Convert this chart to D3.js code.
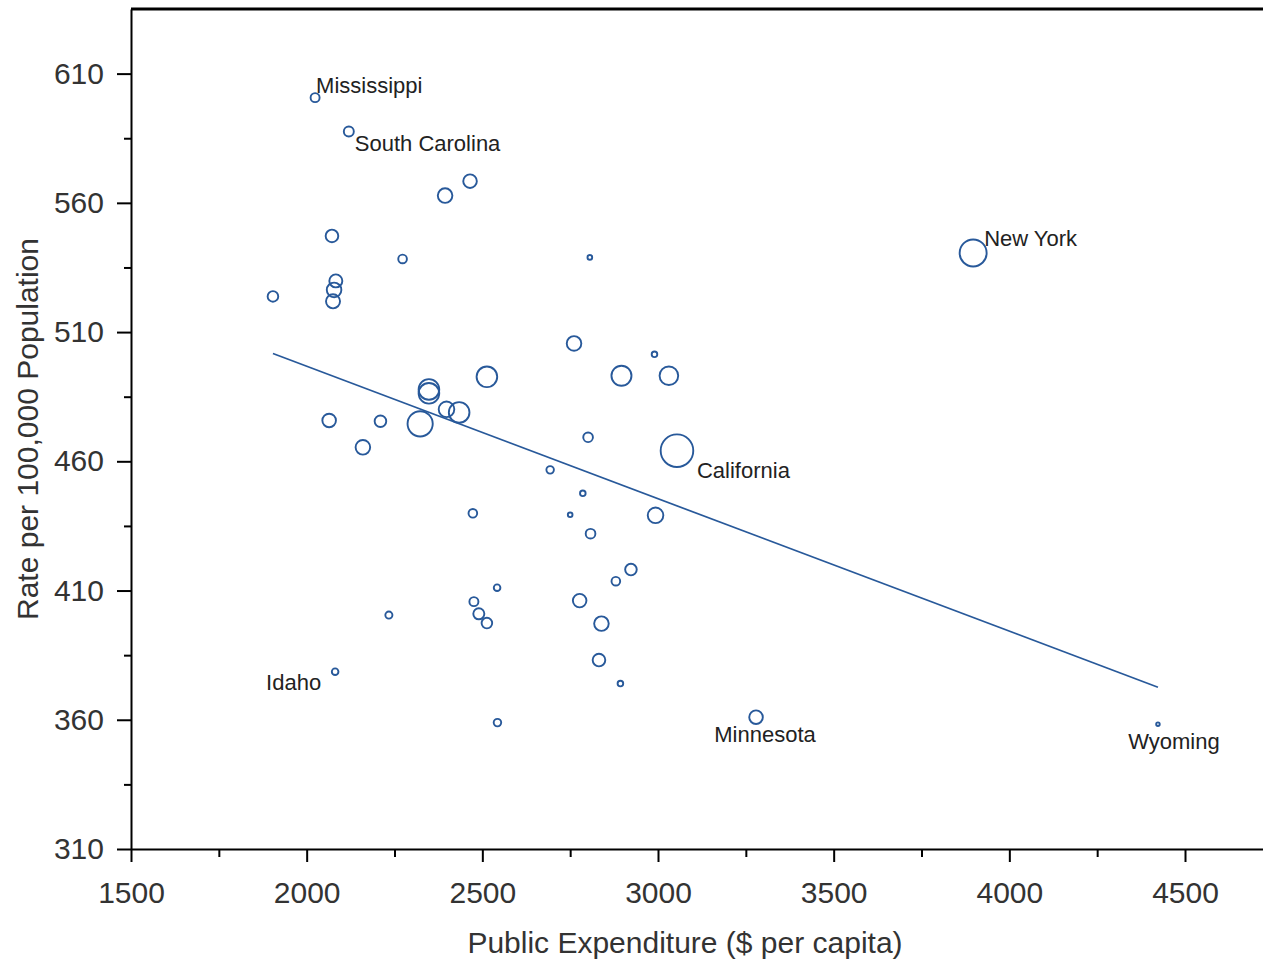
<!DOCTYPE html>
<html>
<head>
<meta charset="utf-8">
<script src="https://cdn.jsdelivr.net/npm/d3@7"></script>
<style>
  body { margin: 0; background: #fff; }
  text { font-family: "Liberation Sans", Arial, sans-serif; }
</style>
</head>
<body>
<svg id="chart" width="1263" height="961"></svg>
<script>
// state values
var expenditure = [2024, 2120, 2394, 2465, 2072, 2273, 2806, 1904, 2083, 2078,
                   2075, 3897, 2761, 2990, 2513, 2896, 3031, 2348, 2348, 2398,
                   2434, 2323, 2064, 2210, 2160, 3054, 2801, 2693, 2786, 2750,
                   2993, 2473, 2808, 2923, 2880, 2542, 2777, 2476, 2490, 2513,
                   2839, 2234, 2832, 2893, 2543, 2081, 3279, 4423];
var rate = [600.7, 587.6, 562.8, 568.4, 547.2, 538.3, 538.9, 523.8, 529.8, 526.3,
            521.9, 540.6, 505.6, 501.4, 492.7, 493.1, 493.1, 487.8, 486.3, 480.1,
            478.9, 474.5, 475.8, 475.5, 465.4, 464.1, 469.3, 456.7, 447.6, 439.3,
            439.1, 439.9, 432.0, 418.1, 413.6, 411.1, 406.1, 405.7, 401.0, 397.4,
            397.2, 400.5, 383.1, 374.0, 358.9, 378.6, 361.0, 358.3];
// population (millions), sets the bubble size
var population = [2.6, 3.2, 6.8, 5.9, 5.1, 2.4, 0.7, 3.6, 5.4, 6.8,
                  6.3, 23.3, 6.8, 1.0, 13.6, 12.8, 11.1, 13.6, 13.6, 7.8,
                  13.6, 20.3, 5.9, 4.3, 6.8, 34.0, 3.0, 1.8, 1.0, 0.7,
                  7.8, 2.4, 3.0, 4.3, 2.4, 1.4, 5.9, 2.6, 3.9, 3.6,
                  6.8, 1.6, 5.1, 1.0, 1.8, 1.4, 5.9, 0.4];
var stateLabel = ["Mississippi", "South Carolina", "", "", "", "", "", "", "", "",
                  "", "New York", "", "", "", "", "", "", "", "",
                  "", "", "", "", "", "California", "", "", "", "",
                  "", "", "", "", "", "", "", "", "", "",
                  "", "", "", "", "", "Idaho", "Minnesota", "Wyoming"];

// fitted line, read at the two ends of the data
var trendExpenditure = [1904, 4423];
var trendRate = [501.7, 372.6];

var xTicks = [1500, 2000, 2500, 3000, 3500, 4000, 4500];
var xMinor = [1750, 2250, 2750, 3250, 3750, 4250];
var yTicks = [310, 360, 410, 460, 510, 560, 610];
var yMinor = [335, 385, 435, 485, 535, 585];

// label placement next to its bubble
var labelPos = {
    "Mississippi":    { dx: 1,   dy: -5, anchor: "start" },
    "South Carolina": { dx: 6,   dy: 19, anchor: "start" },
    "New York":       { dx: 11,  dy: -7, anchor: "start" },
    "California":     { dx: 20,  dy: 27, anchor: "start" },
    "Idaho":          { dx: -14, dy: 18, anchor: "end" },
    "Minnesota":      { dx: 9,   dy: 25, anchor: "middle" },
    "Wyoming":        { dx: 16,  dy: 25, anchor: "middle" }
};

var blue = "#28599a";

var svg = d3.select("#chart");

var x = d3.scaleLinear().domain([1500, 4722]).range([131, 1263]);
var y = d3.scaleLinear().domain([310, 635]).range([849, 9]);
var r = d3.scaleSqrt().domain([0, 34]).range([0, 16.3]);

var data = expenditure.map(function(d, i) {
    return { exp: d, rate: rate[i], pop: population[i], name: stateLabel[i] };
});

// top frame line
svg.append("line")
    .attr("x1", x.range()[0]).attr("x2", x.range()[1])
    .attr("y1", y.range()[1]).attr("y2", y.range()[1])
    .attr("stroke", "black")
    .attr("stroke-width", 3);

// y axis
svg.append("g")
    .attr("transform", "translate(131,0)")
    .call(d3.axisLeft(y).tickValues(yTicks).tickSize(14).tickSizeOuter(0).tickPadding(13).tickFormat(d3.format("d")));
svg.append("g")
    .attr("transform", "translate(131,0)")
    .call(d3.axisLeft(y).tickValues(yMinor).tickSize(7).tickSizeOuter(0).tickFormat(""))
    .select(".domain").remove();

// x axis
svg.append("g")
    .attr("transform", "translate(0,849)")
    .call(d3.axisBottom(x).tickValues(xTicks).tickSize(13).tickSizeOuter(0).tickPadding(20).tickFormat(d3.format("d")));
svg.append("g")
    .attr("transform", "translate(0,849)")
    .call(d3.axisBottom(x).tickValues(xMinor).tickSize(8).tickSizeOuter(0).tickFormat(""))
    .select(".domain").remove();

svg.selectAll(".domain").attr("stroke-width", 2);
svg.selectAll(".tick line").attr("stroke-width", 2);
svg.selectAll(".tick text")
    .attr("font-size", "30px")
    .attr("font-family", "'Liberation Sans', Arial, sans-serif")
    .attr("fill", "#333");

// axis titles
svg.append("text")
    .attr("x", 685)
    .attr("y", 953)
    .attr("text-anchor", "middle")
    .attr("font-size", "30px")
    .attr("fill", "#333")
    .text("Public Expenditure ($ per capita)");

svg.append("text")
    .attr("transform", "translate(38," + ((y.range()[0] + y.range()[1]) / 2) + ") rotate(-90)")
    .attr("text-anchor", "middle")
    .attr("font-size", "30px")
    .attr("fill", "#333")
    .text("Rate per 100,000 Population");

// regression line
var line = d3.line()
    .x(function(d) { return x(d[0]); })
    .y(function(d) { return y(d[1]); });

svg.append("path")
    .datum(d3.zip(trendExpenditure, trendRate))
    .attr("d", line)
    .attr("fill", "none")
    .attr("stroke", blue)
    .attr("stroke-width", 1.7);

// bubbles
svg.append("g")
    .selectAll("circle")
    .data(data)
    .enter()
    .append("circle")
    .attr("cx", function(d) { return x(d.exp); })
    .attr("cy", function(d) { return y(d.rate); })
    .attr("r", function(d) { return r(d.pop); })
    .attr("fill", "none")
    .attr("stroke", blue)
    .attr("stroke-width", 1.9);

// state names
svg.append("g")
    .selectAll("text")
    .data(data.filter(function(d) { return d.name !== ""; }))
    .enter()
    .append("text")
    .attr("x", function(d) { return x(d.exp) + labelPos[d.name].dx; })
    .attr("y", function(d) { return y(d.rate) + labelPos[d.name].dy; })
    .attr("text-anchor", function(d) { return labelPos[d.name].anchor; })
    .attr("font-size", "22px")
    .attr("fill", "#222")
    .text(function(d) { return d.name; });
</script>
</body>
</html>
